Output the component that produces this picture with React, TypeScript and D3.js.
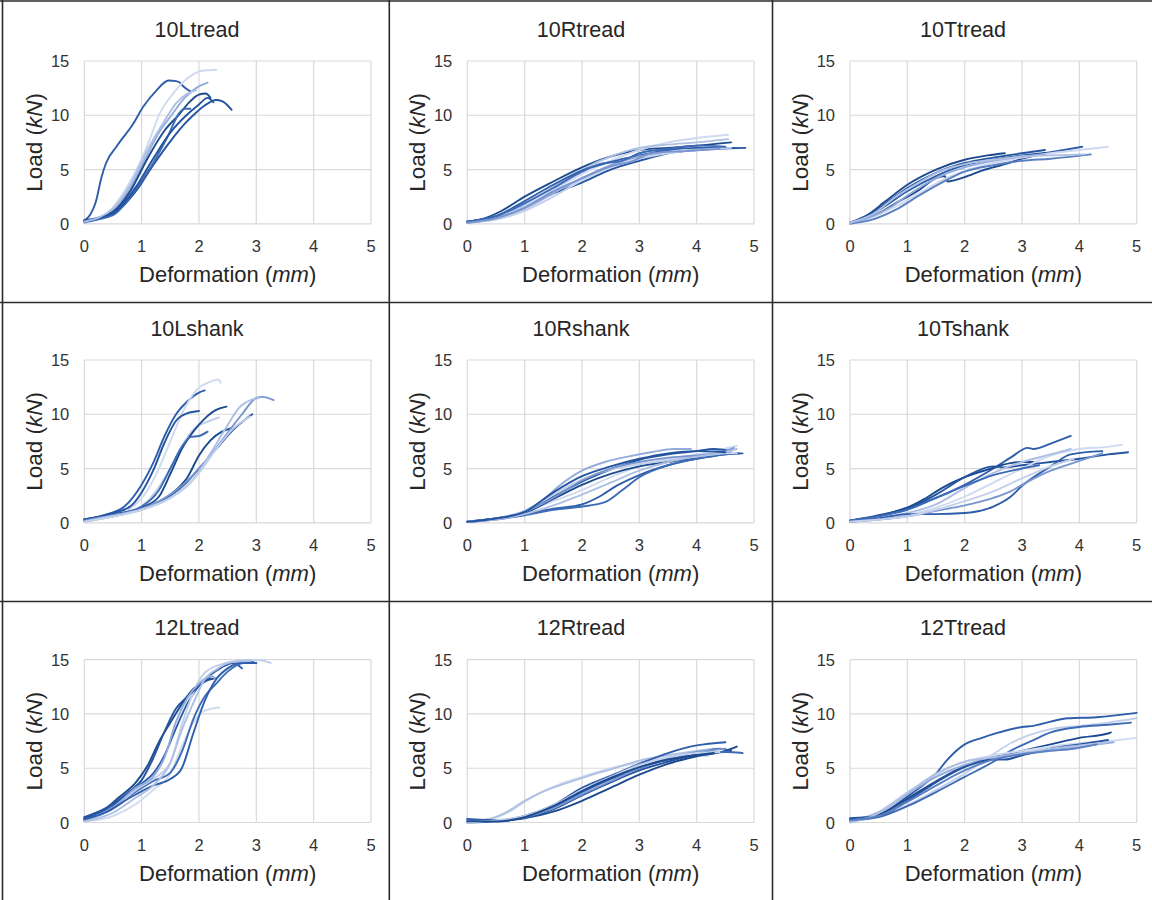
import React from "react";
import * as d3 from "d3";

type Pt = [number, number];

// panel titles, in reading order
const titles = ["10Ltread", "10Rtread", "10Ttread", "10Lshank", "10Rshank", "10Tshank", "12Ltread", "12Rtread", "12Ttread"];

const xTicks = [0, 1, 2, 3, 4, 5];
const yTicks = [0, 5, 10, 15];

// blue shades, darkest -> lightest
const palette = ["#1c4a8f", "#24549f", "#2e5eab", "#3d6bb6", "#5a80c3", "#7895cf", "#94acdb", "#adc0e4", "#c2d0eb", "#cfdaf0"];

// ---- data: load (kN) against deformation (mm), one array per panel ----
const ltread10: Pt[][] = [
  [[0, 0.3], [0.1, 0.8], [0.2, 2.0], [0.3, 4.3], [0.38, 5.6], [0.56, 7.1], [0.85, 9.2], [1.03, 10.8], [1.26, 12.3], [1.47, 13.2], [1.6, 13.15], [1.67, 13.0], [1.72, 12.7], [1.85, 12.2]],
  [[0, 0.2], [0.4, 1.0], [0.7, 3.0], [1.0, 6.0], [1.15, 7.9], [1.3, 10.0], [1.55, 12.0], [1.8, 13.4], [2.05, 14.1], [2.3, 14.2]],
  [[0, 0.1], [0.5, 1.2], [0.8, 3.3], [1.1, 6.4], [1.3, 8.4], [1.52, 10.0], [1.75, 11.6], [1.95, 12.5], [2.15, 13.0]],
  [[0, 0.2], [0.5, 1.1], [0.8, 3.0], [1.1, 6.0], [1.4, 8.6], [1.64, 10.0], [1.85, 11.3], [2.0, 11.9], [2.12, 12.0], [2.2, 11.6]],
  [[0, 0.3], [0.5, 0.9], [0.9, 3.0], [1.2, 5.4], [1.5, 7.6], [1.75, 9.2], [1.9, 10.0], [2.1, 10.9], [2.3, 11.4], [2.4, 11.3], [2.5, 10.9], [2.57, 10.5]],
  [[0, 0.2], [0.5, 0.8], [0.9, 3.2], [1.2, 5.6], [1.45, 8.0], [1.67, 10.3], [1.75, 10.6], [1.85, 10.6]],
  [[0, 0.3], [0.5, 1.0], [0.9, 3.4], [1.2, 6.0], [1.5, 8.4], [1.78, 10.0], [2.0, 11.0], [2.15, 11.6], [2.25, 11.2]],
  [[0, 0.2], [0.5, 1.4], [0.8, 3.6], [1.1, 6.8], [1.4, 9.5], [1.6, 11.1], [1.8, 12.0], [1.95, 12.3]],
];
const ltread10Shades = [2, 9, 6, 0, 1, 3, 1, 7];

const rtread10: Pt[][] = [
  [[0, 0.2], [0.3, 0.5], [0.6, 1.2], [1.0, 2.5], [1.5, 3.9], [2.0, 5.2], [2.5, 6.2], [3.0, 6.8], [3.5, 7.0], [4.0, 7.2], [4.6, 7.5]],
  [[0, 0.2], [0.5, 0.6], [1.0, 1.6], [1.5, 2.8], [2.0, 3.8], [2.5, 5.0], [3.0, 5.8], [3.5, 6.5], [4.0, 6.8], [4.85, 7.0]],
  [[0, 0.1], [0.5, 0.5], [1.0, 1.6], [1.5, 3.1], [2.0, 4.6], [2.5, 5.8], [3.0, 6.8], [3.5, 7.5], [4.0, 7.9], [4.55, 8.2]],
  [[0, 0.1], [0.5, 0.6], [1.0, 1.8], [1.5, 3.4], [2.0, 5.0], [2.5, 6.2], [3.0, 7.0], [3.5, 7.3], [4.0, 7.5], [4.55, 7.8]],
  [[0, 0.2], [0.5, 0.7], [1.0, 2.1], [1.5, 3.6], [2.0, 4.9], [2.5, 5.7], [3.0, 6.3], [3.5, 6.8], [4.0, 7.0], [4.7, 7.0]],
  [[0, 0.1], [0.5, 0.5], [1.0, 1.4], [1.5, 2.8], [2.0, 4.2], [2.5, 5.4], [3.0, 6.2], [3.5, 6.6], [4.0, 6.8], [4.5, 6.9]],
  [[0, 0.1], [0.5, 0.4], [1.0, 1.2], [1.5, 2.5], [2.0, 4.0], [2.5, 5.2], [3.0, 6.0], [3.5, 6.5], [4.0, 6.8], [4.6, 7.0]],
  [[0, 0.2], [0.5, 0.7], [1.0, 1.9], [1.5, 3.3], [2.0, 4.8], [2.3, 5.5], [2.7, 5.8], [3.0, 6.5], [3.5, 6.9], [4.0, 7.2], [4.5, 7.1]],
  [[0, 0.1], [0.5, 0.5], [1.0, 1.5], [1.5, 3.0], [2.0, 4.2], [2.5, 5.3], [2.9, 5.8], [3.2, 6.5], [3.8, 6.7], [4.4, 6.9]],
];
const rtread10Shades = [0, 1, 9, 7, 2, 6, 8, 3, 5];

const ttread10: Pt[][] = [
  [[0, 0.1], [0.3, 0.8], [0.6, 2.0], [1.0, 3.6], [1.5, 5.0], [2.0, 5.9], [2.4, 6.3], [2.7, 6.5]],
  [[0, 0.1], [0.3, 0.7], [0.6, 1.8], [1.0, 3.3], [1.5, 4.7], [2.0, 5.6], [2.5, 6.1], [3.0, 6.5], [3.4, 6.8]],
  [[0, 0.1], [0.3, 0.6], [0.6, 1.6], [1.0, 3.0], [1.5, 4.4], [2.0, 5.4], [2.5, 5.9], [3.0, 6.3], [3.5, 6.6], [4.05, 7.1]],
  [[0, 0.1], [0.4, 0.7], [0.8, 1.9], [1.2, 3.1], [1.5, 4.2], [1.65, 4.4], [1.7, 3.9], [2.0, 4.3], [2.3, 4.9], [2.7, 5.5], [3.0, 6.0], [3.4, 6.5]],
  [[0, 0.1], [0.4, 0.6], [0.8, 1.6], [1.2, 2.8], [1.6, 4.0], [2.0, 4.9], [2.5, 5.6], [3.0, 6.1], [3.5, 6.5], [4.0, 6.8], [4.5, 7.1]],
  [[0, 0.0], [0.4, 0.4], [0.8, 1.3], [1.2, 2.6], [1.6, 3.8], [2.0, 4.8], [2.5, 5.4], [3.0, 5.8], [3.5, 6.0], [4.2, 6.4]],
  [[0, 0.1], [0.3, 0.5], [0.7, 1.5], [1.0, 2.6], [1.5, 4.2], [2.0, 5.2], [2.5, 5.8], [3.0, 6.2], [3.4, 6.4]],
  [[0, 0.1], [0.4, 0.9], [0.8, 2.5], [1.2, 3.8], [1.6, 4.9], [2.0, 5.5], [2.5, 5.9], [3.0, 6.2], [3.5, 6.3], [4.1, 6.4]],
];
const ttread10Shades = [0, 1, 2, 0, 9, 4, 6, 7];

const lshank10: Pt[][] = [
  [[0, 0.3], [0.4, 0.8], [0.7, 1.5], [1.0, 3.5], [1.2, 5.5], [1.4, 8.0], [1.6, 10.0], [1.8, 11.2], [2.0, 12.0], [2.1, 12.2]],
  [[0, 0.1], [0.5, 0.7], [0.8, 1.3], [1.1, 3.0], [1.3, 5.0], [1.5, 7.5], [1.7, 10.0], [1.95, 12.2], [2.2, 13.0], [2.33, 13.2], [2.38, 12.9]],
  [[0, 0.3], [0.5, 0.9], [0.8, 1.5], [1.0, 2.8], [1.2, 4.8], [1.4, 7.4], [1.6, 9.4], [1.8, 10.1], [2.0, 10.3]],
  [[0, 0.1], [0.5, 0.6], [0.9, 1.2], [1.1, 2.0], [1.3, 3.3], [1.5, 5.0], [1.7, 7.0], [1.9, 8.6], [2.1, 9.2], [2.35, 9.7]],
  [[0, 0.2], [0.5, 0.7], [1.0, 1.4], [1.3, 2.4], [1.5, 4.5], [1.7, 6.8], [1.9, 8.4], [2.1, 9.6], [2.3, 10.4], [2.48, 10.7]],
  [[0, 0.2], [0.5, 0.7], [1.0, 1.5], [1.3, 3.0], [1.5, 5.0], [1.7, 7.0], [1.85, 7.9], [2.0, 8.0], [2.15, 8.4]],
  [[0, 0.2], [0.5, 0.6], [1.0, 1.3], [1.5, 2.6], [1.8, 4.2], [2.0, 6.2], [2.2, 7.6], [2.4, 8.4], [2.55, 8.7]],
  [[0, 0.3], [0.5, 0.8], [1.0, 1.3], [1.5, 2.5], [1.8, 3.8], [2.0, 5.0], [2.3, 6.8], [2.6, 8.6], [2.8, 9.5], [2.93, 10.0]],
  [[0, 0.2], [0.5, 0.7], [1.0, 1.3], [1.5, 2.6], [1.9, 4.4], [2.2, 6.2], [2.5, 8.3], [2.75, 10.0], [3.0, 11.5], [3.1, 11.6], [3.3, 11.3]],
  [[0, 0.1], [0.5, 0.6], [1.0, 1.2], [1.5, 2.3], [1.9, 4.0], [2.2, 6.4], [2.5, 9.0], [2.7, 10.6], [2.9, 11.3], [3.05, 11.5]],
  [[0, 0.1], [0.6, 0.7], [1.0, 1.2], [1.5, 2.3], [1.8, 3.4], [2.0, 4.6], [2.3, 6.8], [2.6, 8.7], [2.9, 9.8]],
];
const lshank10Shades = [2, 9, 1, 8, 0, 3, 0, 1, 5, 7, 8];

const rshank10: Pt[][] = [
  [[0, 0.1], [0.5, 0.4], [1.0, 1.1], [1.3, 2.0], [1.6, 3.4], [2.0, 4.8], [2.4, 5.6], [2.8, 6.1], [3.2, 6.5], [3.6, 6.8], [3.9, 6.8]],
  [[0, 0.1], [0.5, 0.4], [1.0, 1.0], [1.5, 2.0], [2.0, 3.0], [2.5, 4.2], [3.0, 5.2], [3.5, 5.9], [4.0, 6.3], [4.4, 6.7], [4.7, 7.1]],
  [[0, 0.1], [0.5, 0.4], [1.0, 0.9], [1.5, 2.2], [2.0, 3.5], [2.5, 4.5], [3.0, 5.2], [3.5, 5.6], [4.0, 6.0], [4.5, 6.3], [4.75, 6.4]],
  [[0, 0.1], [0.5, 0.4], [1.0, 0.8], [1.5, 1.3], [2.0, 1.7], [2.3, 2.4], [2.6, 3.4], [3.0, 4.4], [3.5, 5.3], [4.0, 5.9], [4.5, 6.3], [4.8, 6.4]],
  [[0, 0.1], [0.5, 0.3], [1.0, 0.7], [1.5, 1.2], [2.0, 1.5], [2.4, 1.9], [2.7, 3.0], [3.0, 4.2], [3.5, 5.3], [4.0, 5.9], [4.5, 6.4], [4.6, 6.6]],
  [[0, 0.1], [0.5, 0.4], [1.0, 1.0], [1.5, 2.4], [2.0, 3.8], [2.5, 4.9], [3.0, 5.8], [3.5, 6.3], [4.0, 6.6], [4.3, 6.8], [4.6, 6.6]],
  [[0, 0.1], [0.5, 0.4], [1.0, 1.1], [1.5, 2.6], [2.0, 4.0], [2.5, 4.9], [3.0, 5.4], [3.5, 5.8], [4.0, 6.1], [4.5, 6.4], [4.7, 6.4]],
  [[0, 0.1], [0.5, 0.4], [1.0, 1.0], [1.5, 2.3], [2.0, 3.9], [2.5, 5.0], [3.0, 5.6], [3.5, 6.0], [4.0, 6.2], [4.5, 6.6], [4.65, 6.9]],
  [[0, 0.1], [0.5, 0.3], [1.0, 0.8], [1.5, 1.6], [2.0, 2.6], [2.5, 3.7], [3.0, 4.8], [3.5, 5.6], [4.0, 6.1], [4.5, 6.5], [4.7, 6.8]],
  [[0, 0.1], [0.5, 0.4], [1.0, 1.0], [1.5, 2.8], [2.0, 4.3], [2.5, 5.2], [3.0, 5.9], [3.5, 6.4], [4.0, 6.6], [4.5, 6.5]],
];
const rshank10Shades = [6, 9, 0, 2, 3, 1, 8, 5, 7, 1];

const tshank10: Pt[][] = [
  [[0, 0.2], [0.5, 0.6], [1.0, 1.4], [1.5, 2.3], [2.0, 3.5], [2.5, 5.0], [2.8, 6.0], [3.1, 6.9], [3.2, 6.8], [3.5, 7.3], [3.85, 8.0]],
  [[0, 0.2], [0.5, 0.7], [1.0, 1.4], [1.3, 2.2], [1.6, 3.2], [2.0, 4.2], [2.4, 4.9], [2.8, 5.5], [3.0, 5.6], [3.2, 5.6]],
  [[0, 0.2], [0.5, 0.6], [1.0, 1.3], [1.5, 2.6], [2.0, 4.2], [2.5, 5.2], [2.7, 5.1], [3.0, 5.3], [3.5, 5.6], [4.0, 5.9], [4.5, 6.3], [4.85, 6.5]],
  [[0, 0.1], [0.5, 0.3], [1.0, 0.7], [1.5, 1.4], [2.0, 2.4], [2.5, 3.7], [3.0, 5.0], [3.5, 6.2], [4.0, 6.8], [4.5, 7.0], [4.75, 7.2]],
  [[0, 0.1], [0.5, 0.4], [1.0, 0.9], [1.5, 1.7], [2.0, 3.2], [2.5, 4.6], [3.0, 5.6], [3.5, 6.3], [3.85, 6.8]],
  [[0, 0.1], [0.5, 0.4], [1.0, 0.8], [1.5, 0.8], [2.0, 0.9], [2.5, 1.5], [2.8, 2.4], [3.0, 3.4], [3.5, 5.2], [3.85, 6.3], [4.4, 6.6]],
  [[0, 0.1], [0.5, 0.3], [1.0, 0.6], [1.5, 1.1], [2.0, 1.6], [2.5, 2.3], [2.8, 2.9], [3.1, 3.8], [3.5, 4.8], [4.0, 5.7], [4.4, 6.4]],
  [[0, 0.2], [0.5, 0.6], [1.0, 1.2], [1.5, 2.3], [2.0, 3.4], [2.5, 4.4], [3.0, 5.0], [3.3, 5.3]],
  [[0, 0.1], [0.5, 0.3], [1.0, 0.6], [1.5, 1.2], [2.0, 2.0], [2.5, 2.9], [3.0, 4.1], [3.5, 5.2], [3.9, 5.9]],
];
const tshank10Shades = [2, 0, 1, 9, 7, 2, 5, 3, 8];

const ltread12: Pt[][] = [
  [[0, 0.4], [0.3, 1.0], [0.6, 2.3], [0.9, 3.7], [1.1, 5.2], [1.3, 7.4], [1.5, 9.2], [1.7, 10.9], [1.9, 12.3], [2.1, 13.0], [2.3, 13.3]],
  [[0, 0.3], [0.4, 1.2], [0.8, 2.8], [1.0, 3.6], [1.2, 4.5], [1.4, 6.2], [1.6, 8.7], [1.8, 11.0], [2.0, 12.6], [2.2, 13.6], [2.4, 14.3], [2.6, 14.7], [2.75, 14.2]],
  [[0, 0.1], [0.5, 0.6], [0.9, 1.7], [1.2, 3.0], [1.5, 4.5], [1.7, 7.0], [1.9, 9.2], [2.1, 10.3], [2.35, 10.6]],
  [[0, 0.2], [0.4, 1.0], [0.8, 2.5], [1.2, 3.8], [1.5, 4.6], [1.7, 6.5], [1.9, 9.5], [2.1, 11.6], [2.3, 12.8], [2.5, 13.9], [2.7, 14.6], [2.95, 14.8]],
  [[0, 0.2], [0.5, 1.3], [0.9, 3.0], [1.2, 4.0], [1.5, 5.5], [1.7, 9.0], [1.9, 12.0], [2.1, 13.8], [2.4, 14.6], [2.7, 14.9], [3.0, 15.0], [3.25, 14.7]],
  [[0, 0.5], [0.4, 1.4], [0.8, 2.9], [1.0, 3.9], [1.2, 5.9], [1.4, 8.4], [1.6, 10.5], [1.8, 11.6], [2.0, 12.6], [2.2, 13.3]],
  [[0, 0.2], [0.5, 1.4], [0.9, 3.2], [1.2, 4.2], [1.4, 6.0], [1.6, 9.3], [1.8, 11.5], [2.0, 12.8], [2.2, 13.5], [2.3, 13.2]],
  [[0, 0.3], [0.4, 1.0], [0.8, 2.3], [1.2, 3.4], [1.5, 4.0], [1.7, 5.0], [1.9, 8.2], [2.1, 11.2], [2.3, 13.2], [2.5, 14.2], [2.7, 14.7], [3.0, 14.7]],
  [[0, 0.1], [0.5, 0.9], [0.9, 2.3], [1.2, 3.4], [1.5, 5.5], [1.7, 8.5], [1.9, 11.0], [2.1, 13.2], [2.3, 14.1], [2.6, 14.8], [2.9, 14.9]],
];
const ltread12Shades = [0, 2, 9, 3, 8, 1, 6, 2, 7];

const rtread12: Pt[][] = [
  [[0, 0.1], [0.4, 0.3], [0.7, 0.9], [1.0, 1.9], [1.3, 2.8], [1.6, 3.5], [2.0, 4.2], [2.5, 5.0], [3.0, 5.5], [3.5, 6.0], [4.0, 6.2], [4.2, 6.1]],
  [[0, 0.1], [0.4, 0.35], [0.7, 1.0], [1.0, 2.0], [1.3, 2.8], [1.6, 3.4], [2.0, 4.1], [2.5, 4.9], [3.0, 5.7], [3.5, 6.2], [4.0, 6.6], [4.3, 6.8]],
  [[0, 0.3], [0.5, 0.2], [1.0, 0.4], [1.5, 1.0], [2.0, 2.0], [2.5, 3.2], [3.0, 4.4], [3.5, 5.4], [4.0, 6.1], [4.5, 6.6], [4.7, 7.0]],
  [[0, 0.3], [0.5, 0.2], [1.0, 0.6], [1.5, 1.6], [2.0, 3.2], [2.5, 4.3], [3.0, 5.4], [3.5, 6.4], [4.0, 7.1], [4.5, 7.4]],
  [[0, 0.1], [0.5, 0.1], [1.0, 0.5], [1.5, 1.4], [2.0, 2.8], [2.5, 4.0], [3.0, 5.0], [3.5, 5.8], [4.0, 6.3], [4.5, 6.5], [4.8, 6.4]],
  [[0, 0.0], [0.5, 0.1], [1.0, 0.4], [1.5, 1.2], [2.0, 2.5], [2.5, 3.7], [3.0, 4.8], [3.5, 5.6], [4.0, 6.3], [4.4, 6.8], [4.6, 6.6]],
  [[0, 0.1], [0.5, 0.2], [1.0, 0.5], [1.5, 1.3], [2.0, 2.6], [2.5, 3.8], [3.0, 5.0], [3.5, 5.9], [4.0, 6.5], [4.5, 6.8]],
  [[0, 0.0], [0.5, 0.2], [1.0, 0.6], [1.5, 1.6], [2.0, 3.0], [2.5, 4.2], [3.0, 5.3], [3.5, 6.0], [4.0, 6.4], [4.4, 6.5]],
  [[0, 0.1], [0.5, 0.1], [1.0, 0.5], [1.5, 1.5], [2.0, 2.9], [2.5, 4.1], [3.0, 5.1], [3.5, 5.8], [4.0, 6.2], [4.3, 6.4]],
];
const rtread12Shades = [9, 7, 0, 2, 3, 1, 5, 8, 0];

const ttread12: Pt[][] = [
  [[0, 0.3], [0.5, 0.7], [1.0, 2.4], [1.5, 4.5], [1.7, 5.8], [2.0, 7.2], [2.3, 7.8], [2.6, 8.3], [3.0, 8.8], [3.2, 8.9], [3.5, 9.3], [3.8, 9.6], [4.3, 9.7], [5.0, 10.1]],
  [[0, 0.1], [0.5, 0.6], [1.0, 1.6], [1.5, 3.0], [2.0, 4.5], [2.5, 6.3], [2.8, 7.3], [3.1, 8.0], [3.5, 8.6], [4.0, 8.9], [4.5, 9.2], [5.0, 9.6]],
  [[0, 0.2], [0.5, 0.5], [1.0, 1.5], [1.5, 2.8], [2.0, 4.2], [2.5, 5.6], [2.8, 6.6], [3.2, 7.6], [3.5, 8.3], [4.0, 8.8], [4.5, 9.0], [4.9, 9.2]],
  [[0, 0.2], [0.5, 0.7], [1.0, 2.2], [1.5, 3.8], [2.0, 5.2], [2.5, 6.0], [3.0, 6.6], [3.5, 7.2], [4.0, 7.8], [4.5, 8.2], [4.55, 8.3]],
  [[0, 0.1], [0.5, 1.0], [1.0, 2.8], [1.5, 4.4], [2.0, 5.6], [2.5, 6.2], [3.0, 6.6], [3.5, 7.0], [4.0, 7.3], [4.5, 7.5], [5.0, 7.8]],
  [[0, 0.1], [0.5, 0.9], [1.0, 2.6], [1.5, 4.2], [2.0, 5.3], [2.5, 6.0], [3.0, 6.3], [3.5, 6.7], [4.0, 7.0], [4.6, 7.4]],
  [[0, 0.4], [0.5, 0.6], [1.0, 2.0], [1.5, 3.7], [2.0, 5.1], [2.5, 5.8], [2.7, 5.8], [3.0, 6.2], [3.5, 6.8], [4.0, 7.2], [4.5, 7.6]],
  [[0, 0.0], [0.4, 0.6], [1.0, 2.7], [1.5, 4.5], [2.0, 5.6], [2.5, 6.0], [3.0, 6.4], [3.5, 6.8], [4.0, 7.1], [4.5, 7.4]],
  [[0, 0.2], [0.5, 0.6], [1.0, 1.9], [1.5, 3.4], [2.0, 4.8], [2.5, 5.8], [3.0, 6.3], [3.5, 6.6], [3.9, 6.8], [4.3, 7.2]],
];
const ttread12Shades = [2, 8, 3, 0, 9, 6, 1, 7, 4];

const panelSeries = [ltread10, rtread10, ttread10, lshank10, rshank10, tshank10, ltread12, rtread12, ttread12];
const panelShades = [ltread10Shades, rtread10Shades, ttread10Shades, lshank10Shades, rshank10Shades, tshank10Shades, ltread12Shades, rtread12Shades, ttread12Shades];

// ---- layout ----
const W = 1152;
const H = 900;
const plotLeft = [84.3, 467.3, 850];
const plotTop = [61, 360, 659.7];
const cellCenter = [197, 581, 963];
const plotW = 286.7;
const plotH = 162.8;
const font = "'Liberation Sans', Arial, sans-serif";

const Panel = ({ idx }: { idx: number }) => {
  const col = idx % 3;
  const row = Math.floor(idx / 3);
  const x0 = plotLeft[col];
  const y0 = plotTop[row];

  const x = d3.scaleLinear().domain([0, 5]).range([x0, x0 + plotW]);
  const y = d3.scaleLinear().domain([0, 15]).range([y0 + plotH, y0]);
  const line = d3
    .line<Pt>()
    .x((d) => x(d[0]))
    .y((d) => y(d[1]))
    .curve(d3.curveMonotoneX);

  const series = panelSeries[idx];
  const shades = panelShades[idx];

  return (
    <g>
      {/* gridlines */}
      {xTicks.map((t) => (
        <line key={"gx" + t} x1={x(t)} x2={x(t)} y1={y(15)} y2={y(0)} stroke="#d9d9d9" strokeWidth={1.2} />
      ))}
      {yTicks.map((t) => (
        <line key={"gy" + t} x1={x(0)} x2={x(5)} y1={y(t)} y2={y(t)} stroke="#d9d9d9" strokeWidth={1.2} />
      ))}

      {/* tick labels */}
      {xTicks.map((t) => (
        <text key={"tx" + t} x={x(t)} y={y(0) + 28} textAnchor="middle" fontSize={16.5} fill="#333" fontFamily={font}>
          {t}
        </text>
      ))}
      {yTicks.map((t) => (
        <text key={"ty" + t} x={x0 - 15} y={y(t) + 6} textAnchor="end" fontSize={16.5} fill="#333" fontFamily={font}>
          {t}
        </text>
      ))}

      {/* curves */}
      {series.map((s, i) => (
        <path key={i} d={line(s) || ""} fill="none" stroke={palette[shades[i]]} strokeWidth={1.9} strokeLinejoin="round" strokeLinecap="round" />
      ))}

      {/* titles */}
      <text x={cellCenter[col]} y={y0 - 24.5} textAnchor="middle" fontSize={21.5} fill="#262626" fontFamily={font}>
        {titles[idx]}
      </text>
      <text x={x0 + plotW / 2} y={y0 + plotH + 58} textAnchor="middle" fontSize={22} fill="#262626" fontFamily={font}>
        Deformation (<tspan fontStyle="italic">mm</tspan>)
      </text>
      <text
        transform={`translate(${x0 - 42}, ${y0 + plotH / 2}) rotate(-90)`}
        textAnchor="middle"
        fontSize={22.5}
        fill="#262626"
        fontFamily={font}
      >
        Load (<tspan fontStyle="italic">kN</tspan>)
      </text>
    </g>
  );
};

export default function App() {
  return (
    <div style={{ position: "absolute", left: 0, top: 0, width: W, height: H, background: "#fff" }}>
      <svg width={W} height={H} style={{ display: "block" }}>
        <rect x={0} y={0} width={W} height={H} fill="#fff" />
        {titles.map((_, i) => (
          <Panel key={i} idx={i} />
        ))}
        {/* table borders */}
        <g stroke="#2b2b2b" strokeWidth={1.6}>
          <line x1={0} x2={W} y1={1} y2={1} />
          <line x1={2.5} x2={2.5} y1={0} y2={H} />
          <line x1={389.3} x2={389.3} y1={0} y2={H} />
          <line x1={772.5} x2={772.5} y1={0} y2={H} />
          <line x1={0} x2={W} y1={302.5} y2={302.5} />
          <line x1={0} x2={W} y1={601.5} y2={601.5} />
        </g>
      </svg>
    </div>
  );
}
